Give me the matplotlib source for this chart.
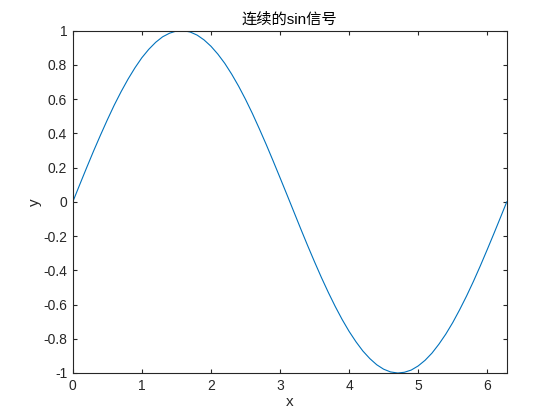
import matplotlib
matplotlib.use("Agg")
import matplotlib.pyplot as plt
from matplotlib.ticker import FormatStrFormatter

# sample points (x in steps of 0.1, plus the peaks and end)
x = [i / 10 for i in range(16)] + [1.571] + [i / 10 for i in range(16, 48)] \
    + [4.712] + [i / 10 for i in range(48, 63)] + [6.283]
y = [0.000, 0.100, 0.199, 0.296, 0.389, 0.479, 0.565, 0.644, 0.717, 0.783,
     0.842, 0.891, 0.932, 0.964, 0.985, 0.998, 1.000,
     1.000, 0.992, 0.974, 0.946, 0.909, 0.863, 0.809, 0.746, 0.676, 0.599,
     0.516, 0.427, 0.335, 0.239, 0.141, 0.042, -0.058, -0.158, -0.256,
     -0.351, -0.443, -0.530, -0.612, -0.688, -0.757, -0.818, -0.872,
     -0.916, -0.952, -0.978, -0.994, -1.000,
     -1.000, -0.996, -0.983, -0.959, -0.926, -0.884, -0.832, -0.773, -0.706,
     -0.631, -0.551, -0.465, -0.374, -0.279, -0.182, -0.083, 0.000]

xticks = [0, 1, 2, 3, 4, 5, 6]
yticks = [-1, -0.8, -0.6, -0.4, -0.2, 0, 0.2, 0.4, 0.6, 0.8, 1]
title = "连续的sin信号"

plt.rcParams["font.family"] = ["Liberation Sans", "Noto Sans CJK SC", "DejaVu Sans"]
plt.rcParams["axes.unicode_minus"] = False

fig = plt.figure(figsize=(5.6, 4.2), dpi=100)
ax = fig.add_axes([0.13, 0.112, 0.775, 0.815])

ax.plot(x, y, color="#0072BD", lw=0.8)

ax.set_xlim(0, 6.2832)
ax.set_ylim(-1, 1)
ax.set_xticks(xticks)
ax.set_yticks(yticks)
ax.xaxis.set_major_formatter(FormatStrFormatter("%g"))
ax.yaxis.set_major_formatter(FormatStrFormatter("%g"))

gray = "#262626"
for s in ax.spines.values():
    s.set_color(gray)
    s.set_linewidth(0.8)
ax.tick_params(direction="in", length=3.2, width=0.8, colors=gray,
               labelsize=10, top=True, right=True, pad=4)

ax.set_xlabel("x", fontsize=11, color=gray, labelpad=2)
ax.set_ylabel("y", fontsize=11, color=gray, labelpad=1)
ax.set_title(title, fontsize=11, color="black", pad=5)

fig.savefig("out.png", dpi=100)
